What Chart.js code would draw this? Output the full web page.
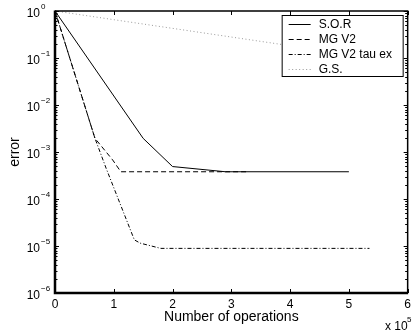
<!DOCTYPE html>
<html>
<head>
<meta charset="utf-8">
<script src="https://cdn.jsdelivr.net/npm/chart.js@4.4.0/dist/chart.umd.min.js"></script>
<style>
  html, body { margin: 0; padding: 0; background: #fff; }
  canvas { display: block; }
</style>
</head>
<body>
<canvas id="errChart" width="415" height="334"></canvas>
<script>
const FONT = "'Liberation Sans', Arial, Helvetica, sans-serif";

// number of operations (x 1e5) against error, one pair of arrays per solver
const sorOps = [0, 1.5, 2.0, 2.9, 5.0];
const sorErr = [1, 1.95e-3, 4.9e-4, 3.8e-4, 3.8e-4];

const mgOps = [0, 0.68, 0.98, 1.12, 3.3];
const mgErr = [1, 1.95e-3, 6.8e-4, 3.8e-4, 3.8e-4];

const mgTauOps = [0, 0.68, 0.87, 1.35, 1.45, 1.8, 5.35];
const mgTauErr = [1, 1.95e-3, 4.5e-4, 1.35e-5, 1.15e-5, 8.9e-6, 8.9e-6];

const gsOps = [0, 6];
const gsErr = [1, 0.078];

const xTicks = [0, 1, 2, 3, 4, 5, 6];
const yExponents = [0, -1, -2, -3, -4, -5, -6];

function pts(xs, ys) {
    return xs.map((x, i) => ({ x: x, y: ys[i] }));
}

// axes box, inward ticks, 10^n labels and the boxed legend
const axesFrame = {
    id: 'axesFrame',
    afterDatasetsDraw(chart) {
        const { ctx, chartArea: a, scales: { x, y } } = chart;
        ctx.save();
        ctx.strokeStyle = '#000';
        ctx.fillStyle = '#000';

        // tick marks
        ctx.lineWidth = 1;
        ctx.beginPath();
        xTicks.forEach(v => {
            const px = Math.round(x.getPixelForValue(v)) + 0.5;
            ctx.moveTo(px, a.bottom); ctx.lineTo(px, a.bottom - 4);
            ctx.moveTo(px, a.top); ctx.lineTo(px, a.top + 4);
        });
        yExponents.forEach(e => {
            for (let k = 1; k <= 9; k++) {
                const v = k * Math.pow(10, e);
                if (v > 1.0001) break;
                const py = Math.round(y.getPixelForValue(v)) + 0.5;
                const len = k === 1 ? 4 : 2.5;
                ctx.moveTo(a.left, py); ctx.lineTo(a.left + len, py);
                ctx.moveTo(a.right, py); ctx.lineTo(a.right - len, py);
            }
        });
        ctx.stroke();

        // box
        ctx.lineWidth = 1.5;
        ctx.beginPath();
        ctx.moveTo(a.left, a.top); ctx.lineTo(a.right, a.top);
        ctx.lineTo(a.right, a.bottom);
        ctx.stroke();
        ctx.lineWidth = 2.5;
        ctx.beginPath();
        ctx.moveTo(a.left, a.top - 0.5); ctx.lineTo(a.left, a.bottom);
        ctx.lineTo(a.right + 0.5, a.bottom);
        ctx.stroke();

        // y tick labels as 10 with a raised exponent
        yExponents.forEach(e => {
            const py = y.getPixelForValue(Math.pow(10, e));
            ctx.font = '12px ' + FONT;
            ctx.textAlign = 'right';
            ctx.textBaseline = 'alphabetic';
            ctx.fillText('10', a.left - 15, py + 5.5);
            ctx.font = '8px ' + FONT;
            ctx.textAlign = 'left';
            ctx.fillText(e < 0 ? '\u2212' + (-e) : String(e), a.left - 14, py - 2);
        });

        // x scale multiplier
        ctx.font = '12px ' + FONT;
        ctx.textAlign = 'left';
        ctx.fillText('x 10', 385, 330);
        ctx.font = '8px ' + FONT;
        ctx.fillText('5', 407, 322);

        // legend
        const lx = a.right - 126, ly = a.top + 4, lw = 121, lh = 61;
        ctx.fillStyle = '#fff';
        ctx.fillRect(lx, ly, lw, lh);
        ctx.lineWidth = 1;
        ctx.strokeStyle = '#000';
        ctx.strokeRect(lx + 0.5, ly + 0.5, lw, lh);
        chart.data.datasets.forEach((ds, i) => {
            const ry = Math.round(ly + 8.5 + i * 15) + 0.5;
            ctx.save();
            ctx.strokeStyle = ds.borderColor;
            ctx.lineWidth = ds.borderWidth;
            ctx.setLineDash(ds.borderDash || []);
            ctx.beginPath();
            ctx.moveTo(lx + 7, ry); ctx.lineTo(lx + 29, ry);
            ctx.stroke();
            ctx.restore();
            ctx.fillStyle = '#000';
            ctx.font = '12px ' + FONT;
            ctx.textAlign = 'left';
            ctx.textBaseline = 'middle';
            ctx.fillText(ds.label, lx + 37, ry);
        });
        ctx.restore();
    }
};

new Chart(document.getElementById('errChart'), {
    type: 'line',
    data: {
        datasets: [{
            label: 'S.O.R',
            data: pts(sorOps, sorErr),
            borderColor: '#000',
            borderWidth: 1
        }, {
            label: 'MG V2',
            data: pts(mgOps, mgErr),
            borderColor: '#000',
            borderWidth: 1,
            borderDash: [5, 3]
        }, {
            label: 'MG V2 tau ex',
            data: pts(mgTauOps, mgTauErr),
            borderColor: '#000',
            borderWidth: 1,
            borderDash: [4, 2, 1, 2]
        }, {
            label: 'G.S.',
            data: pts(gsOps, gsErr),
            borderColor: '#999',
            borderWidth: 1,
            borderDash: [1, 2.5]
        }]
    },
    options: {
        responsive: false,
        animation: false,
        devicePixelRatio: 1,
        layout: { padding: { top: 11, right: 1, left: 0, bottom: 0 } },
        elements: { point: { radius: 0 }, line: { tension: 0, fill: false } },
        plugins: { legend: { display: false }, tooltip: { enabled: false } },
        scales: {
            x: {
                type: 'linear',
                min: 0,
                max: 6,
                grid: { display: false, drawTicks: false },
                border: { display: false },
                afterBuildTicks: scale => { scale.ticks = xTicks.map(v => ({ value: v })); },
                ticks: {
                    padding: 4,
                    color: '#000',
                    maxRotation: 0,
                    font: { family: FONT, size: 12 }
                },
                title: {
                    display: true,
                    text: 'Number of operations',
                    color: '#000',
                    font: { family: FONT, size: 14 },
                    padding: { top: 0, bottom: 8 }
                },
                afterFit: scale => { scale.height = 41; }
            },
            y: {
                type: 'logarithmic',
                min: 1e-6,
                max: 1,
                grid: { display: false, drawTicks: false },
                border: { display: false },
                ticks: { display: false },
                title: {
                    display: true,
                    text: 'error',
                    color: '#000',
                    font: { family: FONT, size: 14 },
                    padding: { top: 7, bottom: 0 }
                },
                afterFit: scale => { scale.width = 55; }
            }
        }
    },
    plugins: [axesFrame]
});
</script>
</body>
</html>
